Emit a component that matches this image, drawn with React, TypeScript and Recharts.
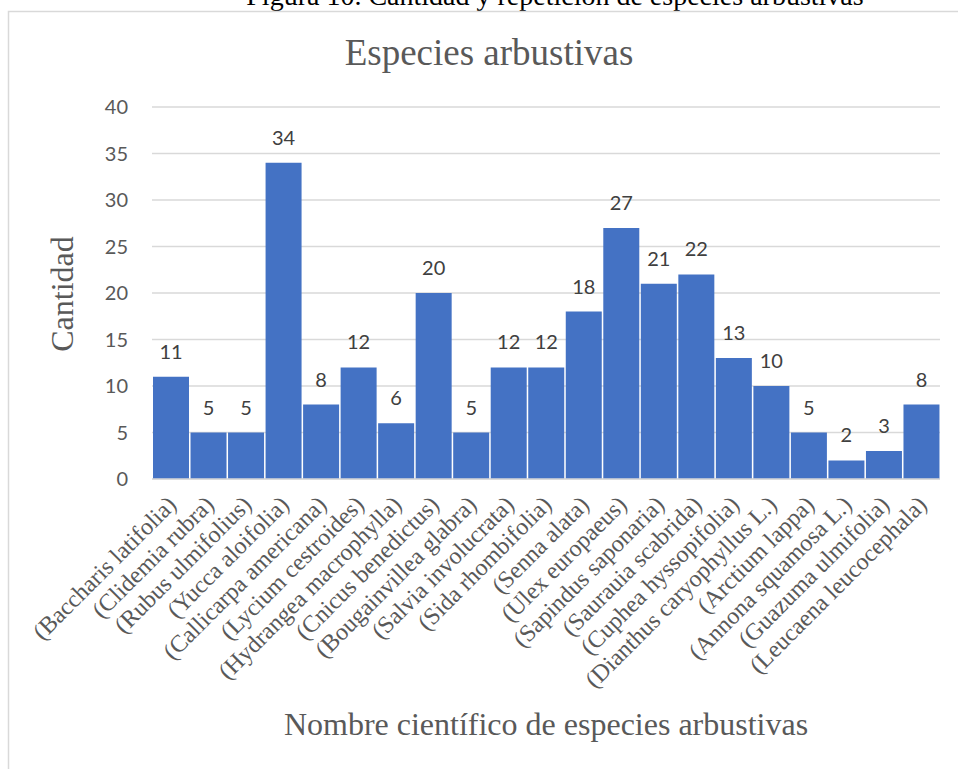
import React from 'react';
import { BarChart, Bar, XAxis, YAxis, CartesianGrid, LabelList } from 'recharts';

// Shrub species and their counts
const species: string[] = [
  '(Baccharis latifolia)',
  '(Clidemia rubra)',
  '(Rubus ulmifolius)',
  '(Yucca aloifolia)',
  '(Callicarpa americana)',
  '(Lycium cestroides)',
  '(Hydrangea macrophylla)',
  '(Cnicus benedictus)',
  '(Bougainvillea glabra)',
  '(Salvia involucrata)',
  '(Sida rhombifolia)',
  '(Senna alata)',
  '(Ulex europaeus)',
  '(Sapindus saponaria)',
  '(Saurauia scabrida)',
  '(Cuphea hyssopifolia)',
  '(Dianthus caryophyllus L.)',
  '(Arctium lappa)',
  '(Annona squamosa L.)',
  '(Guazuma ulmifolia)',
  '(Leucaena leucocephala)',
];

const counts: number[] = [11, 5, 5, 34, 8, 12, 6, 20, 5, 12, 12, 18, 27, 21, 22, 13, 10, 5, 2, 3, 8];

const yTicks: number[] = [0, 5, 10, 15, 20, 25, 30, 35, 40];

const data = species.map((name, i) => ({ name, value: counts[i] }));

const SERIF = '"Liberation Serif", "Times New Roman", serif';
const SANS = 'Lato, "Open Sans", sans-serif';
const W = 958;
const H = 769;

// Category names are drawn at -45°, ending just below each bar's centre
const CategoryTick = (props: any) => {
  const { x, y, payload } = props;
  const ax = x + 7;
  const ay = y + 27;
  return (
    <text
      x={ax}
      y={ay}
      transform={`rotate(-45, ${ax}, ${ay})`}
      textAnchor="end"
      fill="#595959"
      fontFamily={SERIF}
      fontSize={24}
    >
      {payload.value}
    </text>
  );
};

export default function App() {
  return (
    <div style={{ position: 'fixed', left: 0, top: 0, width: W, height: H, overflow: 'hidden', background: '#fff' }}>
      <style>{'html, body { margin: 0; padding: 0; overflow: hidden; background: #fff; }'}</style>
      <svg width={W} height={H} style={{ position: 'absolute', left: 0, top: 0 }}>
        <text x={555} y={4.5} textAnchor="middle" fontFamily={SERIF} fontSize={28} fill="#000">
          Figura 10. Cantidad y repetición de especies arbustivas
        </text>
        {/* chart frame: only its left and top edges fall inside the page */}
        <path d={`M8.5 ${H} V11.5 H${W}`} fill="none" stroke="#d9d9d9" strokeWidth={1.5} />
        <text x={489} y={65} textAnchor="middle" fontFamily={SERIF} fontSize={37} fill="#595959">
          Especies arbustivas
        </text>
        <text
          x={73}
          y={294}
          transform="rotate(-90, 73, 294)"
          textAnchor="middle"
          fontFamily={SERIF}
          fontSize={32}
          fill="#595959"
        >
          Cantidad
        </text>
        <text x={546} y={735} textAnchor="middle" fontFamily={SERIF} fontSize={32} fill="#595959">
          Nombre científico de especies arbustivas
        </text>
      </svg>
      <div style={{ position: 'absolute', left: 0, top: 0 }}>
        <BarChart
          width={W}
          height={H}
          data={data}
          margin={{ top: 107, right: 18, bottom: 90, left: 92 }}
          barCategoryGap={1}
        >
          <CartesianGrid vertical={false} stroke="#d9d9d9" strokeWidth={1.4} />
          <XAxis
            dataKey="name"
            interval={0}
            height={200}
            tickLine={false}
            tickSize={0}
            tickMargin={0}
            axisLine={{ stroke: '#d9d9d9', strokeWidth: 1.5 }}
            tick={<CategoryTick />}
          />
          <YAxis
            domain={[0, 40]}
            ticks={yTicks}
            width={60}
            tickLine={false}
            axisLine={false}
            tickSize={0}
            tickMargin={24}
            tick={{ fill: '#595959', fontSize: 20, fontFamily: SANS }}
          />
          <Bar dataKey="value" fill="#4472C4" isAnimationActive={false}>
            <LabelList
              dataKey="value"
              position="top"
              offset={18}
              fill="#404040"
              fontSize={20}
              fontFamily={SANS}
            />
          </Bar>
        </BarChart>
      </div>
    </div>
  );
}
